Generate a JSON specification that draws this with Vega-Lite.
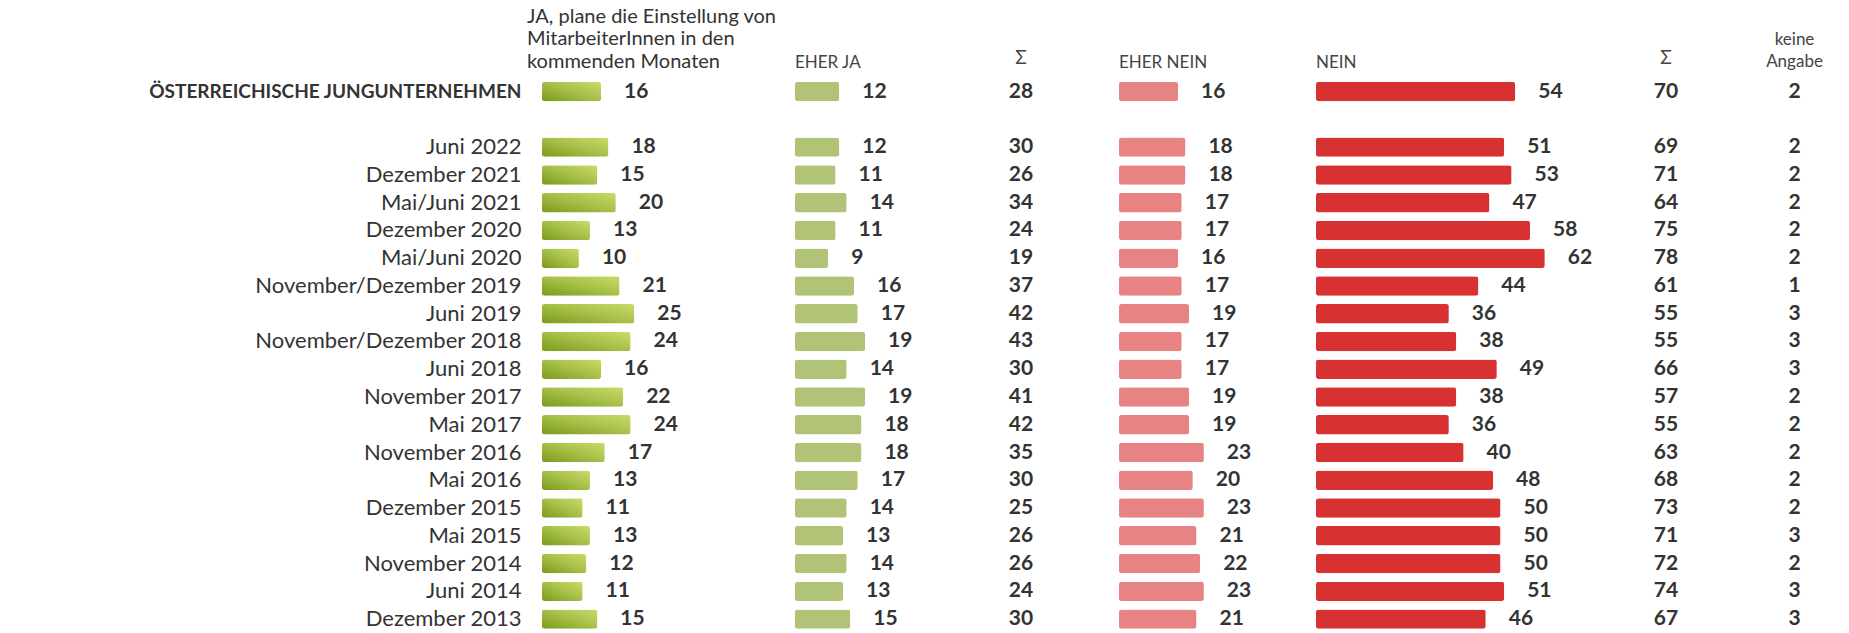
{
  "$schema": "https://vega.github.io/schema/vega-lite/v6.json",
  "padding": 0,
  "spacing": 0,
  "bounds": "flush",
  "config": {"view": {"stroke": null}, "font": "Lato", "text": {"font": "Lato", "color": "#333333"}, "concat": {"spacing": 0}},
  "data": {"values": [
    {"label": "ÖSTERREICHISCHE JUNGUNTERNEHMEN", "ja": 16, "eja": 12, "s1": 28, "en": 16, "n": 54, "s2": 70, "ka": 2},
    {"label": "Juni 2022", "ja": 18, "eja": 12, "s1": 30, "en": 18, "n": 51, "s2": 69, "ka": 2},
    {"label": "Dezember 2021", "ja": 15, "eja": 11, "s1": 26, "en": 18, "n": 53, "s2": 71, "ka": 2},
    {"label": "Mai/Juni 2021", "ja": 20, "eja": 14, "s1": 34, "en": 17, "n": 47, "s2": 64, "ka": 2},
    {"label": "Dezember 2020", "ja": 13, "eja": 11, "s1": 24, "en": 17, "n": 58, "s2": 75, "ka": 2},
    {"label": "Mai/Juni 2020", "ja": 10, "eja": 9, "s1": 19, "en": 16, "n": 62, "s2": 78, "ka": 2},
    {"label": "November/Dezember 2019", "ja": 21, "eja": 16, "s1": 37, "en": 17, "n": 44, "s2": 61, "ka": 1},
    {"label": "Juni 2019", "ja": 25, "eja": 17, "s1": 42, "en": 19, "n": 36, "s2": 55, "ka": 3},
    {"label": "November/Dezember 2018", "ja": 24, "eja": 19, "s1": 43, "en": 17, "n": 38, "s2": 55, "ka": 3},
    {"label": "Juni 2018", "ja": 16, "eja": 14, "s1": 30, "en": 17, "n": 49, "s2": 66, "ka": 3},
    {"label": "November 2017", "ja": 22, "eja": 19, "s1": 41, "en": 19, "n": 38, "s2": 57, "ka": 2},
    {"label": "Mai 2017", "ja": 24, "eja": 18, "s1": 42, "en": 19, "n": 36, "s2": 55, "ka": 2},
    {"label": "November 2016", "ja": 17, "eja": 18, "s1": 35, "en": 23, "n": 40, "s2": 63, "ka": 2},
    {"label": "Mai 2016", "ja": 13, "eja": 17, "s1": 30, "en": 20, "n": 48, "s2": 68, "ka": 2},
    {"label": "Dezember 2015", "ja": 11, "eja": 14, "s1": 25, "en": 23, "n": 50, "s2": 73, "ka": 2},
    {"label": "Mai 2015", "ja": 13, "eja": 13, "s1": 26, "en": 21, "n": 50, "s2": 71, "ka": 3},
    {"label": "November 2014", "ja": 12, "eja": 14, "s1": 26, "en": 22, "n": 50, "s2": 72, "ka": 2},
    {"label": "Juni 2014", "ja": 11, "eja": 13, "s1": 24, "en": 23, "n": 51, "s2": 74, "ka": 3},
    {"label": "Dezember 2013", "ja": 15, "eja": 15, "s1": 30, "en": 21, "n": 46, "s2": 67, "ka": 3}
  ]},
  "hconcat": [
    {
      "width": 542, "height": 633,
      "mark": {"type": "text"},
      "encoding": {
        "y": {"field": "label", "type": "nominal", "sort": null, "axis": null,
          "scale": {"type": "band", "domain": [" ", "ÖSTERREICHISCHE JUNGUNTERNEHMEN", "  ", "Juni 2022", "Dezember 2021", "Mai/Juni 2021", "Dezember 2020", "Mai/Juni 2020", "November/Dezember 2019", "Juni 2019", "November/Dezember 2018", "Juni 2018", "November 2017", "Mai 2017", "November 2016", "Mai 2016", "Dezember 2015", "Mai 2015", "November 2014", "Juni 2014", "Dezember 2013"], "paddingInner": 0, "paddingOuter": 0.9, "align": 1, "round": false}},
        "text": {"value": ""}
      }
    },
    {
      "width": 253, "height": 633,
      "layer": [
        {
          "mark": {"type": "bar", "height": {"band": 0.7}, "cornerRadius": 2.5,
            "color": {"gradient": "linear", "x1": 0, "y1": 1, "x2": 1, "y2": 0, "stops": [{"offset": 0, "color": "#7b9a1a"}, {"offset": 0.55, "color": "#a9c24c"}, {"offset": 1, "color": "#c9dc68"}]}},
          "encoding": {
            "y": {"field": "label", "type": "nominal", "sort": null,
              "scale": {"type": "band", "domain": [" ", "ÖSTERREICHISCHE JUNGUNTERNEHMEN", "  ", "Juni 2022", "Dezember 2021", "Mai/Juni 2021", "Dezember 2020", "Mai/Juni 2020", "November/Dezember 2019", "Juni 2019", "November/Dezember 2018", "Juni 2018", "November 2017", "Mai 2017", "November 2016", "Mai 2016", "Dezember 2015", "Mai 2015", "November 2014", "Juni 2014", "Dezember 2013"], "paddingInner": 0, "paddingOuter": 0.9, "align": 1, "round": false},
              "axis": {"title": null, "domain": false, "ticks": false, "labelPadding": 21, "labelLimit": 700, "labelFont": "Lato", "labelColor": "#333333",
                "labelFontSize": {"condition": {"test": "datum.value === 'ÖSTERREICHISCHE JUNGUNTERNEHMEN'", "value": 19}, "value": 22},
                "labelFontWeight": {"condition": {"test": "datum.value === 'ÖSTERREICHISCHE JUNGUNTERNEHMEN'", "value": "bold"}, "value": "normal"}}},
            "x": {"field": "ja", "type": "quantitative", "scale": {"domain": [0, 68.564], "nice": false}, "axis": null}
          }
        },
        {
          "mark": {"type": "text", "align": "left", "baseline": "middle", "dx": 23, "fontSize": 21, "fontWeight": "bold"},
          "encoding": {
            "y": {"field": "label", "type": "nominal", "sort": null},
            "x": {"field": "ja", "type": "quantitative"},
            "text": {"field": "ja", "type": "quantitative"}
          }
        },
        {
          "data": {"values": [{"h": "JA, plane die Einstellung von\nMitarbeiterInnen in den\nkommenden Monaten"}]},
          "mark": {"type": "text", "align": "left", "baseline": "alphabetic", "lineBreak": "\n", "fontSize": 20, "lineHeight": 22.5, "dx": -15, "dy": -41},
          "encoding": {
            "y": {"datum": " ", "type": "nominal"},
            "x": {"datum": 0, "type": "quantitative"},
            "text": {"field": "h"}
          }
        }
      ]
    },
    {
      "width": 128, "height": 633,
      "layer": [
        {
          "mark": {"type": "bar", "height": {"band": 0.7}, "cornerRadius": 2.5, "color": "#b1c377"},
          "encoding": {
            "y": {"field": "label", "type": "nominal", "sort": null, "axis": null,
              "scale": {"type": "band", "domain": [" ", "ÖSTERREICHISCHE JUNGUNTERNEHMEN", "  ", "Juni 2022", "Dezember 2021", "Mai/Juni 2021", "Dezember 2020", "Mai/Juni 2020", "November/Dezember 2019", "Juni 2019", "November/Dezember 2018", "Juni 2018", "November 2017", "Mai 2017", "November 2016", "Mai 2016", "Dezember 2015", "Mai 2015", "November 2014", "Juni 2014", "Dezember 2013"], "paddingInner": 0, "paddingOuter": 0.9, "align": 1, "round": false}},
            "x": {"field": "eja", "type": "quantitative", "scale": {"domain": [0, 34.688], "nice": false}, "axis": null}
          }
        },
        {
          "mark": {"type": "text", "align": "left", "baseline": "middle", "dx": 23, "fontSize": 21, "fontWeight": "bold"},
          "encoding": {
            "y": {"field": "label", "type": "nominal", "sort": null, "axis": null},
            "x": {"field": "eja", "type": "quantitative", "axis": null},
            "text": {"field": "eja", "type": "quantitative"}
          }
        },
        {
          "data": {"values": [{"h": "EHER JA"}]},
          "mark": {"type": "text", "align": "left", "baseline": "alphabetic", "fontSize": 17, "dy": 4, "color": "#444444"},
          "encoding": {
            "y": {"datum": " ", "type": "nominal", "axis": null},
            "x": {"datum": 0, "type": "quantitative", "axis": null},
            "text": {"field": "h"}
          }
        }
      ]
    },
    {
      "width": 196, "height": 633,
      "layer": [
        {
          "mark": {"type": "text", "align": "center", "baseline": "middle", "fontSize": 21, "fontWeight": "bold"},
          "encoding": {
            "y": {"field": "label", "type": "nominal", "sort": null, "axis": null,
              "scale": {"type": "band", "domain": [" ", "ÖSTERREICHISCHE JUNGUNTERNEHMEN", "  ", "Juni 2022", "Dezember 2021", "Mai/Juni 2021", "Dezember 2020", "Mai/Juni 2020", "November/Dezember 2019", "Juni 2019", "November/Dezember 2018", "Juni 2018", "November 2017", "Mai 2017", "November 2016", "Mai 2016", "Dezember 2015", "Mai 2015", "November 2014", "Juni 2014", "Dezember 2013"], "paddingInner": 0, "paddingOuter": 0.9, "align": 1, "round": false}},
            "x": {"datum": 0.5, "type": "quantitative", "scale": {"domain": [0, 1], "nice": false}, "axis": null},
            "text": {"field": "s1", "type": "quantitative"}
          }
        },
        {
          "data": {"values": [{"h": "Σ"}]},
          "mark": {"type": "text", "align": "center", "baseline": "alphabetic", "fontSize": 19, "dy": 0, "color": "#444444"},
          "encoding": {
            "y": {"datum": " ", "type": "nominal", "axis": null},
            "x": {"datum": 0.5, "type": "quantitative", "axis": null},
            "text": {"field": "h"}
          }
        }
      ]
    },
    {
      "width": 197, "height": 633,
      "layer": [
        {
          "mark": {"type": "bar", "height": {"band": 0.7}, "cornerRadius": 2.5, "color": "#e88383"},
          "encoding": {
            "y": {"field": "label", "type": "nominal", "sort": null, "axis": null,
              "scale": {"type": "band", "domain": [" ", "ÖSTERREICHISCHE JUNGUNTERNEHMEN", "  ", "Juni 2022", "Dezember 2021", "Mai/Juni 2021", "Dezember 2020", "Mai/Juni 2020", "November/Dezember 2019", "Juni 2019", "November/Dezember 2018", "Juni 2018", "November 2017", "Mai 2017", "November 2016", "Mai 2016", "Dezember 2015", "Mai 2015", "November 2014", "Juni 2014", "Dezember 2013"], "paddingInner": 0, "paddingOuter": 0.9, "align": 1, "round": false}},
            "x": {"field": "en", "type": "quantitative", "scale": {"domain": [0, 53.388], "nice": false}, "axis": null}
          }
        },
        {
          "mark": {"type": "text", "align": "left", "baseline": "middle", "dx": 23, "fontSize": 21, "fontWeight": "bold"},
          "encoding": {
            "y": {"field": "label", "type": "nominal", "sort": null, "axis": null},
            "x": {"field": "en", "type": "quantitative", "axis": null},
            "text": {"field": "en", "type": "quantitative"}
          }
        },
        {
          "data": {"values": [{"h": "EHER NEIN"}]},
          "mark": {"type": "text", "align": "left", "baseline": "alphabetic", "fontSize": 17, "dy": 4, "color": "#444444"},
          "encoding": {
            "y": {"datum": " ", "type": "nominal", "axis": null},
            "x": {"datum": 0, "type": "quantitative", "axis": null},
            "text": {"field": "h"}
          }
        }
      ]
    },
    {
      "width": 276, "height": 633,
      "layer": [
        {
          "mark": {"type": "bar", "height": {"band": 0.7}, "cornerRadius": 2.5, "color": "#d83131"},
          "encoding": {
            "y": {"field": "label", "type": "nominal", "sort": null, "axis": null,
              "scale": {"type": "band", "domain": [" ", "ÖSTERREICHISCHE JUNGUNTERNEHMEN", "  ", "Juni 2022", "Dezember 2021", "Mai/Juni 2021", "Dezember 2020", "Mai/Juni 2020", "November/Dezember 2019", "Juni 2019", "November/Dezember 2018", "Juni 2018", "November 2017", "Mai 2017", "November 2016", "Mai 2016", "Dezember 2015", "Mai 2015", "November 2014", "Juni 2014", "Dezember 2013"], "paddingInner": 0, "paddingOuter": 0.9, "align": 1, "round": false}},
            "x": {"field": "n", "type": "quantitative", "scale": {"domain": [0, 74.797], "nice": false}, "axis": null}
          }
        },
        {
          "mark": {"type": "text", "align": "left", "baseline": "middle", "dx": 23, "fontSize": 21, "fontWeight": "bold"},
          "encoding": {
            "y": {"field": "label", "type": "nominal", "sort": null, "axis": null},
            "x": {"field": "n", "type": "quantitative", "axis": null},
            "text": {"field": "n", "type": "quantitative"}
          }
        },
        {
          "data": {"values": [{"h": "NEIN"}]},
          "mark": {"type": "text", "align": "left", "baseline": "alphabetic", "fontSize": 17, "dy": 4, "color": "#444444"},
          "encoding": {
            "y": {"datum": " ", "type": "nominal", "axis": null},
            "x": {"datum": 0, "type": "quantitative", "axis": null},
            "text": {"field": "h"}
          }
        }
      ]
    },
    {
      "width": 148, "height": 633,
      "layer": [
        {
          "mark": {"type": "text", "align": "center", "baseline": "middle", "fontSize": 21, "fontWeight": "bold"},
          "encoding": {
            "y": {"field": "label", "type": "nominal", "sort": null, "axis": null,
              "scale": {"type": "band", "domain": [" ", "ÖSTERREICHISCHE JUNGUNTERNEHMEN", "  ", "Juni 2022", "Dezember 2021", "Mai/Juni 2021", "Dezember 2020", "Mai/Juni 2020", "November/Dezember 2019", "Juni 2019", "November/Dezember 2018", "Juni 2018", "November 2017", "Mai 2017", "November 2016", "Mai 2016", "Dezember 2015", "Mai 2015", "November 2014", "Juni 2014", "Dezember 2013"], "paddingInner": 0, "paddingOuter": 0.9, "align": 1, "round": false}},
            "x": {"datum": 0.5, "type": "quantitative", "scale": {"domain": [0, 1], "nice": false}, "axis": null},
            "text": {"field": "s2", "type": "quantitative"}
          }
        },
        {
          "data": {"values": [{"h": "Σ"}]},
          "mark": {"type": "text", "align": "center", "baseline": "alphabetic", "fontSize": 19, "dy": 0, "color": "#444444"},
          "encoding": {
            "y": {"datum": " ", "type": "nominal", "axis": null},
            "x": {"datum": 0.5, "type": "quantitative", "axis": null},
            "text": {"field": "h"}
          }
        }
      ]
    },
    {
      "width": 109, "height": 633,
      "layer": [
        {
          "mark": {"type": "text", "align": "center", "baseline": "middle", "fontSize": 21, "fontWeight": "bold"},
          "encoding": {
            "y": {"field": "label", "type": "nominal", "sort": null, "axis": null,
              "scale": {"type": "band", "domain": [" ", "ÖSTERREICHISCHE JUNGUNTERNEHMEN", "  ", "Juni 2022", "Dezember 2021", "Mai/Juni 2021", "Dezember 2020", "Mai/Juni 2020", "November/Dezember 2019", "Juni 2019", "November/Dezember 2018", "Juni 2018", "November 2017", "Mai 2017", "November 2016", "Mai 2016", "Dezember 2015", "Mai 2015", "November 2014", "Juni 2014", "Dezember 2013"], "paddingInner": 0, "paddingOuter": 0.9, "align": 1, "round": false}},
            "x": {"datum": 0.5, "type": "quantitative", "scale": {"domain": [0, 1], "nice": false}, "axis": null},
            "text": {"field": "ka", "type": "quantitative"}
          }
        },
        {
          "data": {"values": [{"h": "keine\nAngabe"}]},
          "mark": {"type": "text", "align": "center", "baseline": "alphabetic", "lineBreak": "\n", "fontSize": 17, "lineHeight": 22, "dy": -19, "color": "#444444"},
          "encoding": {
            "y": {"datum": " ", "type": "nominal", "axis": null},
            "x": {"datum": 0.5, "type": "quantitative", "axis": null},
            "text": {"field": "h"}
          }
        }
      ]
    }
  ]
}
